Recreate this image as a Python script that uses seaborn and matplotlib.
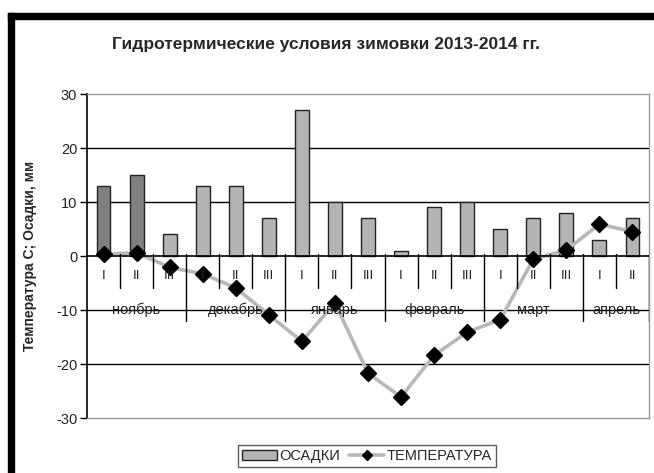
import numpy as np
import pandas as pd
import seaborn as sns
import matplotlib.pyplot as plt
from matplotlib.lines import Line2D
from matplotlib.patches import Patch, Rectangle

months = ['ноябрь', 'декабрь', 'январь', 'февраль', 'март', 'апрель']
decades = ['I', 'II', 'III', 'I', 'II', 'III', 'I', 'II', 'III',
           'I', 'II', 'III', 'I', 'II', 'III', 'I', 'II']
month_of = ['ноябрь'] * 3 + ['декабрь'] * 3 + ['январь'] * 3 + \
           ['февраль'] * 3 + ['март'] * 3 + ['апрель'] * 2
osadki = [13, 15, 4, 13, 13, 7, 27, 10, 7, 1, 9, 10, 5, 7, 8, 3, 7]
temperatura = [0.3, 0.6, -2.1, -3.3, -5.9, -10.9, -15.8, -8.7, -21.7,
               -26.1, -18.4, -14.1, -11.8, -0.6, 1.1, 5.9, 4.5]

df = pd.DataFrame({
    'key': [f'{m}-{d}-{i}' for i, (m, d) in enumerate(zip(month_of, decades))],
    'decade': decades,
    'month': month_of,
    'osadki': osadki,
    'temp': temperatura,
})
df['pos'] = np.arange(len(df))

sns.set_style('white')
plt.rcParams['font.family'] = ['Liberation Sans', 'DejaVu Sans']
plt.rcParams['axes.unicode_minus'] = False

fig = plt.figure(figsize=(6.54, 4.73), dpi=100)
ax = fig.add_axes([87 / 654, 55 / 473, 562 / 654, 324 / 473])

bar_colors = ['#808080', '#808080'] + ['#b4b4b4'] * (len(df) - 2)
sns.barplot(data=df, x='key', y='osadki', hue='key', palette=bar_colors,
            legend=False, width=0.42, edgecolor='#222222', linewidth=1.0,
            saturation=1, ax=ax, zorder=3)

# температура
ax.plot(df['pos'], df['temp'], color='#b8b8b8', lw=2.6, zorder=4)
ax.plot(df['pos'], df['temp'], ls='none', marker='D', ms=8,
        color='black', zorder=5)

ax.set_xlim(-0.5, len(df) - 0.5)
ax.set_ylim(-30, 30)
ax.set_yticks(range(-30, 31, 10))
ax.set_xticks([])
ax.set_xlabel('')
ax.tick_params(axis='y', labelsize=10.5, length=5, width=1, color='black',
               direction='out', left=True, pad=2)
for t in ax.get_yticklabels():
    t.set_color('#222222')

for v in [-20, -10, 10, 20]:
    ax.axhline(v, color='black', lw=1.0, zorder=1)
ax.axhline(0, color='black', lw=1.2, zorder=6)

for s in ['top', 'right', 'bottom']:
    ax.spines[s].set_color('#999999')
    ax.spines[s].set_linewidth(1.0)
ax.spines['left'].set_color('black')
ax.spines['left'].set_linewidth(1.2)

# подписи декад и месяцев
bounds = [2.5, 5.5, 8.5, 11.5, 14.5]
for i in range(1, len(df)):
    x = i - 0.5
    low = -12 if x in bounds else -5.9
    ax.plot([x, x], [0.4, low], color='black', lw=1.0, zorder=6)
ax.plot([len(df) - 0.5] * 2, [0.4, -12], color='black', lw=1.0, zorder=6)
for i, d in enumerate(decades):
    ax.text(i, -3.7, d, ha='center', va='center', fontsize=9.5,
            color='#222222', zorder=6)
for m in months:
    idx = df.index[df['month'] == m]
    ax.text(idx.to_numpy().mean(), -10, m, ha='center', va='center',
            fontsize=10.5, color='#222222', zorder=6)

ax.set_ylabel('Температура С; Осадки, мм', fontsize=10, fontweight='bold')
ax.yaxis.set_label_coords(-50 / 562, 0.5)

fig.text(326 / 654, 1 - 45 / 473,
         'Гидротермические условия зимовки 2013-2014 гг.',
         ha='center', va='center', fontsize=12.5, fontweight='bold')

handles = [Patch(facecolor='#b4b4b4', edgecolor='#222222', lw=1.0),
           Line2D([0], [0], color='#b8b8b8', lw=2.6, marker='D', ms=5,
                  markerfacecolor='black', markeredgecolor='black')]
leg = fig.legend(handles, ['ОСАДКИ', 'ТЕМПЕРАТУРА'], loc='center',
                 bbox_to_anchor=(367 / 654, 1 - 456 / 473), ncol=2,
                 fontsize=10.5, frameon=True, fancybox=False, handlelength=2.4,
                 handletextpad=0.15, columnspacing=0.6, borderpad=0.3,
                 borderaxespad=0.2)
leg.get_frame().set_edgecolor('#333333')
leg.get_frame().set_linewidth(1.0)

# чёрная рамка картинки
fig.patches.append(Rectangle((8 / 654, 1 - 19 / 473), 646 / 654, 6 / 473,
                             transform=fig.transFigure, color='black'))
fig.patches.append(Rectangle((8 / 654, 0), 6 / 654, 1 - 13 / 473,
                             transform=fig.transFigure, color='black'))

fig.savefig('out.png', dpi=100)
